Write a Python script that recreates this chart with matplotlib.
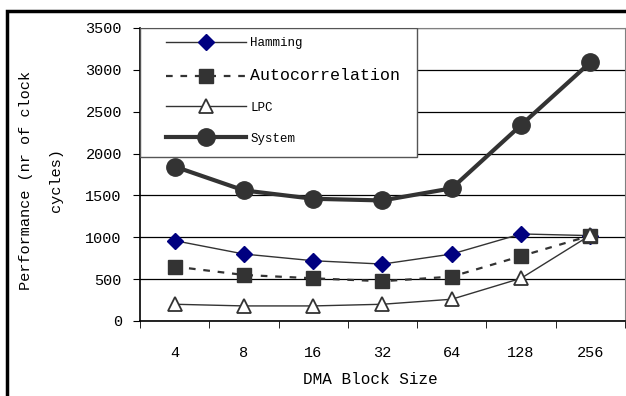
import matplotlib.pyplot as plt
from matplotlib.patches import Rectangle

plt.rcParams['font.family'] = ['Liberation Mono', 'DejaVu Sans Mono']

block_sizes = ["4", "8", "16", "32", "64", "128", "256"]
hamming = [960, 800, 720, 680, 800, 1040, 1020]
autocorrelation = [650, 550, 510, 475, 530, 775, 1020]
lpc = [200, 180, 180, 200, 260, 510, 1025]
system = [1845, 1560, 1460, 1440, 1585, 2340, 3090]
y_ticks = [0, 500, 1000, 1500, 2000, 2500, 3000, 3500]

fig = plt.figure(figsize=(6.26, 3.96), dpi=100)
ax = fig.add_axes([0.2236, 0.1894, 0.7748, 0.7399])

x = list(range(len(block_sizes)))
dark = "#333333"

ax.plot(x, hamming, color=dark, lw=1, marker="D", markersize=8.5,
        markerfacecolor="#000080", markeredgecolor="#000080", label="Hamming", zorder=4)
ax.plot(x, autocorrelation, color=dark, lw=1.6, ls=(0, (3, 3.5)), marker="s", markersize=9.5,
        markerfacecolor=dark, markeredgecolor=dark, label="Autocorrelation", zorder=4)
ax.plot(x, lpc, color=dark, lw=1, marker="^", markersize=10.5,
        markerfacecolor="white", markeredgecolor=dark, markeredgewidth=1.3, label="LPC", zorder=5)
ax.plot(x, system, color=dark, lw=3, marker="o", markersize=12.5,
        markerfacecolor=dark, markeredgecolor=dark, label="System", zorder=4)

ax.set_xlim(-0.5, 6.5)
ax.set_ylim(0, 3500)
ax.set_yticks(y_ticks)
ax.set_yticklabels([str(v) for v in y_ticks], fontsize=11)
ax.set_xticks(x)
ax.set_xticklabels(block_sizes, fontsize=11)
ax.set_xticks([i - 0.5 for i in range(8)], minor=True)
ax.tick_params(axis="x", which="major", length=0, pad=18)
ax.tick_params(axis="x", which="minor", length=5, direction="out", color="black")
ax.tick_params(axis="y", length=5, direction="out", pad=8, color="black")

ax.yaxis.grid(True, color="black", lw=0.9)
ax.set_axisbelow(True)
for side in ["top", "right"]:
    ax.spines[side].set_color("#808080")
for side in ["left", "bottom"]:
    ax.spines[side].set_color("black")
    ax.spines[side].set_linewidth(1.2)

ax.set_xlabel("DMA Block Size", fontsize=11.5)
ax.xaxis.set_label_coords(0.475, -0.2)
ax.xaxis.label.set_va("center")
ax.set_ylabel("Performance (nr of clock\ncycles)", fontsize=11, linespacing=2.4)
ax.yaxis.set_label_coords(-0.204, 0.48)
ax.yaxis.label.set_va("center")

# legend box
ax.add_patch(Rectangle((0, 0.56), 0.571, 0.44, transform=ax.transAxes,
                       facecolor="white", edgecolor="#555555", lw=1, zorder=6))
leg = ax.legend(loc="upper left", bbox_to_anchor=(0.035, 1.0), frameon=False,
                fontsize=9, handlelength=6.4, handletextpad=0.3, labelspacing=1.5,
                borderaxespad=0.35)
leg.set_zorder(7)
leg.get_texts()[1].set_fontsize(12)

# outer frame
fig.add_artist(Rectangle((0.0112, -0.2), 1.5, 0.9722 + 0.2, transform=fig.transFigure,
                         fill=False, edgecolor="black", lw=2.5))

fig.savefig("out.png", dpi=100)
